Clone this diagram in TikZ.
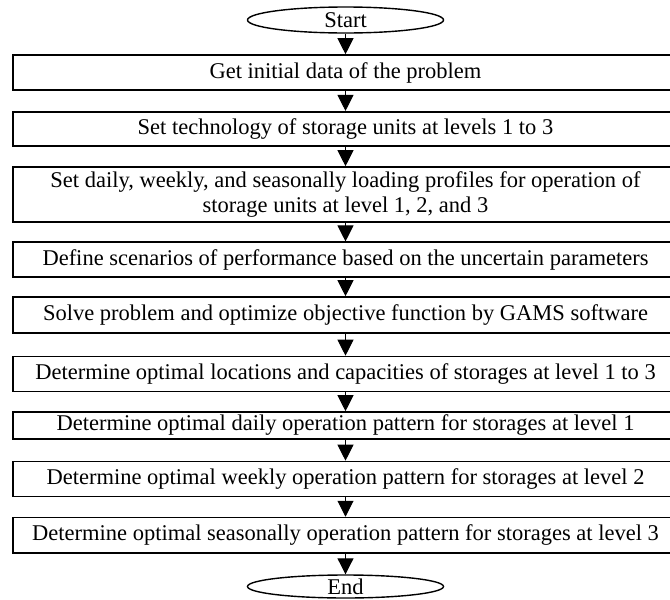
\documentclass[tikz,border=0pt]{standalone}
\usepackage{fontspec}
\setmainfont{Liberation Serif}
\usetikzlibrary{arrows.meta,shapes.geometric}
\begin{document}
\begin{tikzpicture}[x=1pt,y=-1pt,
  box/.style={draw, line width=1.6pt, minimum width=665pt, inner sep=0pt,
    font=\fontsize{22.5}{25}\selectfont, align=center},
  term/.style={draw, ellipse, line width=1.4pt, minimum width=196pt, inner sep=0pt,
    font=\fontsize{22.5}{25}\selectfont},
  flow/.style={line width=1pt, -{Triangle[width=16pt,length=16pt]}}]
\useasboundingbox (0,0) rectangle (670,600);
\clip (0,0) rectangle (670,600);
\node[term, minimum height=26pt] (start) at (345.5,20) {Start};
\node[box, minimum height=35pt] (b1) at (345.5,72.5) {Get initial data of the problem};
\node[box, minimum height=34.5pt] (b2) at (345.5,129) {Set technology of storage units at levels 1 to 3};
\node[box, minimum height=55pt] (b3) at (345.5,194.5) {Set daily, weekly, and seasonally loading profiles for operation of\\storage units at level 1, 2, and 3};
\node[box, minimum height=34.5pt] (b4) at (345.5,259.5) {Define scenarios of performance based on the uncertain parameters};
\node[box, minimum height=36pt] (b5) at (345.5,315) {Solve problem and optimize objective function by GAMS software};
\node[box, minimum height=35pt] (b6) at (345.5,374) {Determine optimal locations and capacities of storages at level 1 to 3};
\node[box, minimum height=27pt] (b7) at (345.5,425.5) {Determine optimal daily operation pattern for storages at level 1};
\node[box, minimum height=35pt] (b8) at (345.5,479) {Determine optimal weekly operation pattern for storages at level 2};
\node[box, minimum height=35.5pt] (b9) at (345.5,535.3) {Determine optimal seasonally operation pattern for storages at level 3};
\node[term, minimum height=23pt] (end) at (345.5,586.5) {End};
\draw[flow] (start) -- (b1);
\draw[flow] (b1) -- (b2);
\draw[flow] (b2) -- (b3);
\draw[flow] (b3) -- (b4);
\draw[flow] (b4) -- (b5);
\draw[flow] (b5) -- (b6);
\draw[flow] (b6) -- (b7);
\draw[flow] (b7) -- (b8);
\draw[flow] (b8) -- (b9);
\draw[flow] (b9) -- (end);
\end{tikzpicture}
\end{document}
